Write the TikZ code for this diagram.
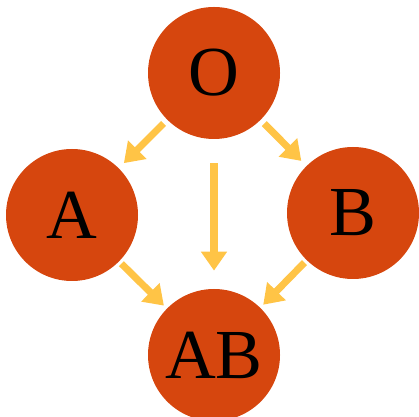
\documentclass[tikz,border=0pt]{standalone}
\usepackage{fontspec}
\setmainfont{Liberation Serif}
\usepackage{xcolor}
\definecolor{bloodorange}{RGB}{214,70,14}
\definecolor{arrowgold}{RGB}{255,196,70}
\usepackage{tikz}
\usetikzlibrary{arrows.meta, positioning}

\begin{document}
\begin{tikzpicture}[
    group/.style={circle, fill=bloodorange, minimum size=2.64cm, inner sep=0pt,
                  font=\fontsize{40}{40}\selectfont, text=black},
    flow/.style={draw=arrowgold, line width=4pt,
                 -{Triangle[width=0.5cm, length=0.38cm]}}
  ]
  \useasboundingbox (0,0) rectangle (8.38,8.32);

  % Blood groups
  \node[group] (O)  at (4.28,6.86) {O};
  \node[group] (A)  at (1.44,4.02) {A};
  \node[group] (B)  at (7.06,4.06) {B};
  \node[group] (AB) at (4.28,1.22) {AB};

  % Arrows
  \draw[flow, shorten <=0.1cm, shorten >=0.14cm] (O) -- (A);
  \draw[flow, shorten <=0.1cm, shorten >=0.14cm] (O) -- (B);
  \draw[flow, shorten <=0.48cm, shorten >=0.36cm] (O) -- (AB);
  \draw[flow, shorten <=0.06cm, shorten >=0.08cm] (A) -- (AB);
  \draw[flow, shorten <=0.06cm, shorten >=0.08cm] (B) -- (AB);
\end{tikzpicture}
\end{document}
